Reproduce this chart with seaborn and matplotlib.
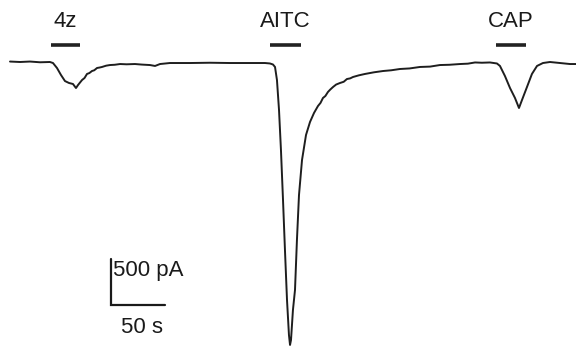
import numpy as np
import pandas as pd
import matplotlib
matplotlib.use("Agg")
import matplotlib.pyplot as plt
import seaborn as sns

# Whole-cell current trace (time in s, current in pA)
time_s = [0, 9.3, 18.5, 27.8, 37, 39.8, 43.5, 47.2, 50.9, 54.6, 58.3, 61.1, 63, 66.7,
          69, 71.3, 73.5, 75.9, 78, 80.6, 83, 85.2, 89, 92.6, 97, 101.9, 108, 115.7,
          122, 129.6, 134.3, 138.9, 148.1,
          166.7, 185.2, 203.7, 222.2, 236.1, 240.7, 243.5, 245.4, 247.2, 249.1,
          250.9, 252.8, 254.6, 256.5, 258.3, 259.3, 260.2, 262, 263.9, 265.7, 267.6,
          270.4, 274.1, 277.8, 281.5, 285.2, 287.5, 289.8, 292, 294.4, 296.5, 299.1,
          302, 305.6, 309, 312, 315, 317.6, 323, 328.7, 337, 345.4, 353, 361.1,
          370, 379.6, 389, 398.1, 407, 416.7, 424, 430.6, 437, 444.4, 450.9,
          453.7, 458.3, 463, 467.6, 471.3, 474.1, 478.7, 483.3, 488, 493.5, 500,
          509.3, 518.5, 524.1]
current_pA = [5, 0, 5, -3, 0, -11, -65, -141, -207, -228, -239, -283, -250, -196,
              -174, -130, -120, -98, -90, -65, -60, -54, -40, -33, -30, -22, -25, -22,
              -28, -33, -43, -22, -11,
              -11, -8, -11, -11, -11, -16, -27, -54, -196, -522,
              -957, -1500, -2043, -2587, -2967, -3076, -3022, -2696, -2478, -1935, -1446,
              -1065, -793, -652, -554, -478, -445, -391, -370, -326, -300, -272,
              -245, -228, -215, -185, -178, -163, -145, -130, -112, -98, -90, -76,
              -70, -54, -50, -33, -30, -22, -18, -5, -8, -5, -16,
              -43, -152, -283, -391, -500, -413, -272, -130, -43, -11, 0,
              -11, -22, -22]

# Drug applications (bars above the trace)
drugs = ["4z", "AITC", "CAP"]
drug_on_s = [38, 241, 450]
drug_off_s = [65, 269, 478]

# Scale bar
scale_t = 50      # s
scale_i = 500     # pA
scale_origin = (93.5, -2641)

df = pd.DataFrame({"t": time_s, "i": current_pA})

sns.set_theme(style="white")
plt.rcParams["font.family"] = ["Liberation Sans", "DejaVu Sans"]

fig = plt.figure(figsize=(5.76, 3.48), dpi=100)
ax = fig.add_axes([0, 0, 1, 1])
sns.lineplot(data=df, x="t", y="i", ax=ax, sort=False, estimator=None,
             color="#1e1e1e", linewidth=1.4)

bar_y = 185
label_y = 435
for name, on, off in zip(drugs, drug_on_s, drug_off_s):
    ax.plot([on, off], [bar_y, bar_y], color="#222222", linewidth=2.6,
            solid_capstyle="butt")
    ax.text((on + off) / 2, label_y, name, ha="center", va="center",
            fontsize=16, color="#1a1a1a")

x0, y0 = scale_origin
ax.plot([x0, x0, x0 + scale_t], [y0 + scale_i, y0, y0], color="#1a1a1a",
        linewidth=1.6, solid_joinstyle="miter")
ax.text(x0 + 1.5, y0 + scale_i * 0.74, f"{scale_i} pA", ha="left", va="center",
        fontsize=16, color="#1a1a1a")
ax.text(x0 + scale_t / 2 + 4, y0 - 250, f"{scale_t} s", ha="center",
        va="center", fontsize=16, color="#1a1a1a")

ax.set_xlim(-9.26, 524.1)
ax.set_ylim(-3109, 674)
ax.set_axis_off()
fig.savefig("out.png", dpi=100, facecolor="white")
